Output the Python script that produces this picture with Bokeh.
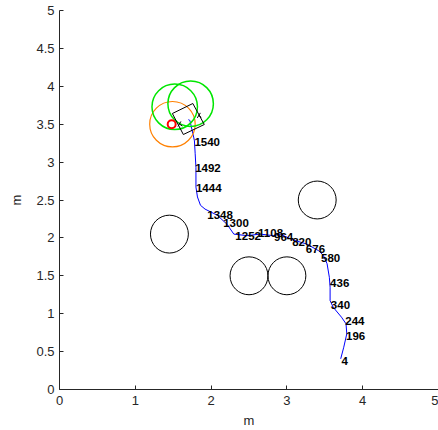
from bokeh.plotting import figure
from bokeh.models import Range1d, FixedTicker
from bokeh.core.properties import value
from bokeh.embed import file_html
from bokeh.resources import INLINE

# trajectory (from start, bottom, to end, top)
path_x = [3.71, 3.75, 3.79, 3.78, 3.72, 3.61, 3.57, 3.57, 3.56, 3.53, 3.48, 3.42, 3.26, 3.09, 2.91,
          2.82, 2.65, 2.47, 2.30, 2.21, 2.08, 1.92, 1.86, 1.82, 1.80, 1.80, 1.79, 1.78, 1.77, 1.72, 1.70]
path_y = [0.405, 0.558, 0.735, 0.867, 0.954, 1.086, 1.174, 1.35, 1.48, 1.66, 1.77, 1.83, 1.92, 1.97, 2.05,
          2.03, 2.05, 2.03, 2.05, 2.18, 2.30, 2.38, 2.43, 2.54, 2.67, 2.93, 3.11, 3.28, 3.33, 3.55, 3.56]

# sample index labels
lab_text = ["4", "196", "244", "340", "436", "580", "676", "820", "964", "1108",
            "1252", "1300", "1348", "1444", "1492", "1540"]
lab_x = [3.72, 3.78, 3.77, 3.58, 3.57, 3.45, 3.25, 3.07, 2.83, 2.62, 2.32, 2.16, 1.95, 1.80, 1.79, 1.78]
lab_y = [0.38, 0.70, 0.90, 1.11, 1.41, 1.74, 1.86, 1.95, 2.01, 2.07, 2.03, 2.20, 2.30, 2.66, 2.92, 3.26]

# obstacles
obs_x = [1.45, 2.50, 3.00, 3.40]
obs_y = [2.05, 1.50, 1.50, 2.50]
obs_r = [0.25, 0.25, 0.25, 0.25]

# robot range circles
green_x = [1.52, 1.73]
green_y = [3.73, 3.77]
green_r = [0.30, 0.30]
orange_x = [1.49]
orange_y = [3.50]
orange_r = [0.30]
red_x = [1.48]
red_y = [3.50]

# robot body
body_x = [1.489, 1.759, 1.910, 1.634]
body_y = [3.641, 3.773, 3.496, 3.364]
mark_xs = [[1.562, 1.601], [1.581, 1.621], [1.818, 1.858], [1.838, 1.871]]
mark_ys = [[3.470, 3.536], [3.503, 3.476], [3.583, 3.649], [3.615, 3.589]]

ticks_x = [0, 1, 2, 3, 4, 5]
ticks_y = [0, 0.5, 1, 1.5, 2, 2.5, 3, 3.5, 4, 4.5, 5]

FONT = "Liberation Sans"

p = figure(frame_width=379, frame_height=379, output_backend="svg", toolbar_location=None,
           x_range=Range1d(0, 5), y_range=Range1d(0, 5),
           min_border_left=59, min_border_right=0, min_border_top=10, min_border_bottom=38)
p.outline_line_color = None
p.grid.visible = False
p.background_fill_color = "white"
p.border_fill_color = "white"

for ax in (p.xaxis[0], p.yaxis[0]):
    ax.axis_label = "m"
    ax.axis_label_text_font = FONT
    ax.axis_label_text_font_style = "normal"
    ax.axis_label_text_font_size = "13px"
    ax.axis_label_text_color = "#262626"
    ax.major_label_text_font = FONT
    ax.major_label_text_font_size = "13px"
    ax.major_label_text_color = "#262626"
    ax.major_tick_in = 4
    ax.major_tick_out = 0
    ax.minor_tick_line_color = None
    ax.axis_line_color = "#262626"
    ax.major_tick_line_color = "#262626"
    ax.axis_line_width = 1

p.xaxis[0].ticker = FixedTicker(ticks=ticks_x)
p.yaxis[0].ticker = FixedTicker(ticks=ticks_y)
p.xaxis[0].major_label_standoff = 6
p.yaxis[0].major_label_standoff = 5
p.xaxis[0].axis_label_standoff = 5
p.yaxis[0].axis_label_standoff = 9

# obstacles
p.circle(obs_x, obs_y, radius=obs_r, fill_color=None, line_color="black", line_width=1)

# trajectory
p.line(path_x, path_y, line_color="#0000ff", line_width=1)

# robot circles
p.circle(orange_x, orange_y, radius=orange_r, fill_color=None, line_color="#ff8000", line_width=1.2)
p.circle(green_x, green_y, radius=green_r, fill_color=None, line_color="#00e600", line_width=1.5)
p.scatter(red_x, red_y, marker="circle", size=8, fill_color=None, line_color="#ff0000", line_width=2)

# robot body
p.patch(body_x, body_y, fill_color=None, line_color="black", line_width=1)
p.multi_line(mark_xs, mark_ys, line_color="black", line_width=1)

# labels
p.text(lab_x, lab_y, text=lab_text, text_font=value(FONT), text_font_style="bold",
       text_font_size="11.5px", text_baseline="middle", text_align="left", text_color="black")

open("out.html", "w").write(file_html(p, INLINE))
